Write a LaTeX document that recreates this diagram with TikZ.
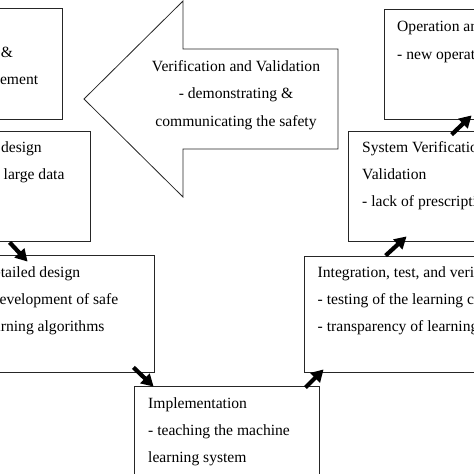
\documentclass[tikz,border=0pt]{standalone}
\usepackage{fontspec}
\setmainfont{Liberation Serif}
\usepackage{tikz}
\usetikzlibrary{calc,arrows.meta,positioning}

\begin{document}
\begin{tikzpicture}[x=1pt,y=-1pt,
		every node/.style={font=\fontsize{15.6}{18}\selectfont},
		phase/.style={draw=black!85,line width=0.8pt,inner sep=0pt},
		txt/.style={anchor=base west,inner sep=0pt},
		ctxt/.style={anchor=base,inner sep=0pt},
		flow/.style={line width=4.2pt,-{Triangle[length=12pt,width=13pt]}}]
		\path[use as bounding box] (0,0) rectangle (474,474);
		\clip (0,0) rectangle (474,474);
		\node[phase,minimum width=168pt,minimum height=111pt] (req) at (-22,63.5) {};
		\node[phase,minimum width=185pt,minimum height=110.5pt] (arch) at (-2.5,186.25) {};
		\node[phase,minimum width=186pt,minimum height=117pt] (detail) at (61,313.5) {};
		\node[phase,minimum width=185pt,minimum height=120pt] (impl) at (226.5,446) {};
		\node[phase,minimum width=190pt,minimum height=116pt] (integ) at (399,314) {};
		\node[phase,minimum width=190pt,minimum height=110.5pt] (sysvv) at (443,186.25) {};
		\node[phase,minimum width=190pt,minimum height=110pt] (oper) at (479,64) {};
		\draw[black!85,line width=0.8pt,fill=white] (338,49) -- (183,49) -- (183,1) -- (84,99)
			-- (183,197) -- (183,149) -- (338,149) -- cycle;
		\node[txt] (req1) at (-92,30) {Requirements};
		\node[txt] (req2) at (-92,57) {- specification \&};
		\node[txt] (req3) at (-92,84) {- safety management};
		\node[txt] (arch1) at (-81,152) {Architecture design};
		\node[txt] (arch2) at (-81,179) {- handling of large data};
		\node[txt] (detail1) at (-17.5,277) {Detailed design};
		\node[txt] (detail2) at (-17.5,304) {- development of safe};
		\node[txt] (detail3) at (-17.5,331) {learning algorithms};
		\node[txt] (impl1) at (148,408) {Implementation};
		\node[txt] (impl2) at (148,435) {- teaching the machine};
		\node[txt] (impl3) at (148,462) {learning system};
		\node[txt] (integ1) at (317.5,277) {Integration, test, and verification};
		\node[txt] (integ2) at (317.5,304) {- testing of the learning components};
		\node[txt] (integ3) at (317.5,331) {- transparency of learning algorithms};
		\node[txt] (sysvv1) at (362,152) {System Verification and};
		\node[txt] (sysvv2) at (362,179) {Validation};
		\node[txt] (sysvv3) at (362,206.5) {- lack of prescriptive standards};
		\node[txt] (oper1) at (397,31.5) {Operation and maintenance};
		\node[txt] (oper2) at (397,59) {- new operational conditions};
		\node[ctxt] (vv1) at (236,71) {Verification and Validation};
		\node[ctxt] (vv2) at (236,98) {- demonstrating \&};
		\node[ctxt] (vv3) at (236,126) {communicating the safety};
		\draw[flow] ($(arch.south west)+(105,0.5)$) -- ($(detail.north west)+(60,7)$);
		\draw[flow] ($(detail.south east)+(-21,-5)$) -- ($(impl.north west)+(20,1)$);
		\draw[flow] ($(impl.north east)+(-14,2)$) -- ($(integ.south west)+(20,-3)$);
		\draw[flow] ($(integ.north west)+(82,0)$) -- ($(sysvv.south west)+(59,-5.5)$);
		\draw[flow] ($(sysvv.north west)+(104,4)$) -- ($(oper.south west)+(88,-4)$);
	\end{tikzpicture}
\end{document}
